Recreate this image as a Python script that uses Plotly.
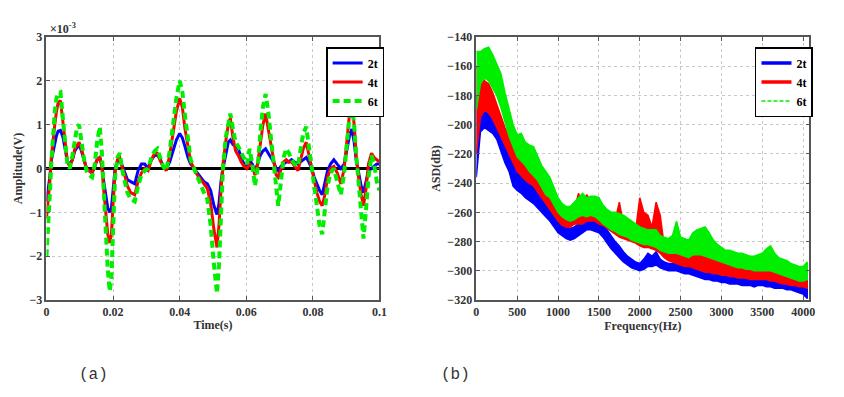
import plotly.graph_objects as go

# ---------------- (a) time domain, values in units of 1e-3 V ----------------
time_ms = [0.0, 0.5, 1.0, 1.5, 2.0, 2.5, 3.0, 3.5, 4.2, 5.0, 5.6, 6.3, 7.0, 7.8, 8.5, 9.2, 9.8,
           10.5, 11.3, 12.0, 12.8, 13.7, 14.5, 15.2, 16.0, 16.6, 17.2, 17.8, 18.4, 19.0, 19.5,
           20.0, 20.6, 21.3, 22.0, 22.8, 23.5, 24.3, 25.3, 26.5, 27.5, 28.5, 29.5, 30.5, 31.5,
           32.5, 33.3, 34.0, 35.0, 36.0, 37.0, 38.0, 39.0, 40.0, 40.8, 41.6, 42.5, 43.3, 44.3,
           45.3, 46.3, 47.3, 48.3, 49.3, 50.3, 51.2, 51.8, 52.4, 53.0, 53.8, 54.6, 55.2, 56.0,
           56.8, 57.6, 58.5, 59.3, 60.2, 61.0, 61.8, 62.6, 63.4, 64.2, 65.0, 65.8, 66.6, 67.4,
           68.2, 69.0, 69.6, 70.4, 71.2, 72.0, 72.8, 73.6, 74.5, 75.5, 76.3, 77.1, 78.0, 78.8,
           79.6, 80.4, 81.2, 82.0, 82.8, 83.6, 84.4, 85.3, 86.3, 87.3, 88.4, 89.4, 90.2, 91.0,
           91.7, 92.4, 93.0, 93.7, 94.5, 95.2, 95.9, 96.7, 97.6, 98.4, 99.2, 100.0]

amp_2t = [-0.75, -0.5, -0.2, 0.2, 0.4, 0.55, 0.75, 0.85, 0.87, 0.7, 0.4, 0.15, 0.1, 0.2, 0.4, 0.5, 0.55,
          0.4, 0.2, 0.0, -0.05, -0.1, 0.05, 0.2, 0.25, 0.1, -0.3, -0.6, -0.9, -1.0, -0.9,
          -0.5, 0.0, 0.15, 0.2, 0.05, -0.1, -0.25, -0.3, -0.35, -0.05, 0.1, 0.1, 0.0, 0.2,
          0.3, 0.3, 0.25, 0.05, 0.0, 0.15, 0.4, 0.65, 0.8, 0.7, 0.5, 0.25, 0.1, 0.0,
          -0.1, -0.2, -0.3, -0.35, -0.5, -0.85, -1.05, -0.8, -0.3, 0.0, 0.35, 0.6, 0.65, 0.55,
          0.5, 0.45, 0.25, 0.1, 0.05, 0.2, 0.1, -0.05, 0.1, 0.3, 0.4, 0.45, 0.35, 0.25,
          0.15, 0.0, -0.05, 0.05, 0.1, 0.15, 0.15, 0.2, 0.15, 0.1, 0.15, 0.2, 0.25, 0.15,
          0.0, -0.2, -0.35, -0.5, -0.6, -0.35, -0.05, 0.1, 0.2, 0.1, 0.0, 0.1, 0.4, 0.75,
          0.9, 0.6, 0.2, -0.1, -0.4, -0.55, -0.3, -0.05, 0.0, 0.05, 0.1, 0.1]

amp_4t = [-1.15, -0.8, -0.3, 0.3, 0.7, 1.0, 1.3, 1.5, 1.55, 1.0, 0.5, 0.15, 0.05, 0.2, 0.45, 0.55, 0.6,
          0.45, 0.2, 0.0, -0.05, -0.1, 0.05, 0.2, 0.25, 0.05, -0.5, -1.0, -1.5, -1.7, -1.5,
          -0.8, -0.1, 0.2, 0.25, 0.0, -0.15, -0.4, -0.55, -0.6, -0.3, -0.1, 0.0, -0.05, 0.2,
          0.35, 0.35, 0.2, 0.05, -0.05, 0.3, 0.8, 1.3, 1.6, 1.4, 0.9, 0.45, 0.15, 0.0,
          -0.15, -0.25, -0.35, -0.45, -0.8, -1.4, -1.8, -1.3, -0.5, 0.1, 0.6, 1.0, 1.15, 0.7,
          0.4, 0.3, 0.15, 0.05, 0.0, 0.1, 0.05, -0.15, 0.1, 0.6, 1.0, 1.25, 0.9, 0.5,
          0.2, -0.15, -0.2, 0.0, 0.15, 0.2, 0.15, 0.15, 0.05, -0.05, 0.2, 0.45, 0.6, 0.3,
          0.0, -0.3, -0.55, -0.75, -0.85, -0.6, -0.2, 0.0, 0.05, -0.1, -0.35, 0.0, 0.7, 1.25,
          1.45, 1.0, 0.3, -0.2, -0.6, -0.85, -0.5, 0.1, 0.35, 0.25, 0.2, 0.15]

amp_6t = [-2.0, -1.4, -0.6, 0.2, 0.8, 1.3, 1.6, 1.72, 1.74, 1.2, 0.6, 0.1, 0.0, 0.3, 0.7, 0.95, 1.0,
          0.6, 0.2, -0.05, -0.15, -0.2, 0.1, 0.6, 0.95, 0.4, -0.6, -1.6, -2.3, -2.8, -2.5,
          -1.4, -0.2, 0.25, 0.35, -0.05, -0.25, -0.55, -0.7, -0.75, -0.4, -0.15, -0.05, 0.0, 0.25,
          0.4, 0.45, 0.3, 0.05, -0.05, 0.4, 1.0, 1.6, 2.0, 1.75, 1.2, 0.6, 0.2, 0.0,
          -0.2, -0.4, -0.55, -0.7, -1.3, -2.2, -2.85, -2.2, -0.9, 0.0, 0.7, 1.1, 1.25, 0.9,
          0.6, 0.5, 0.35, 0.2, 0.1, 0.45, 0.1, -0.4, 0.0, 0.8, 1.4, 1.7, 1.3, 0.7,
          0.1, -0.5, -0.85, -0.3, 0.25, 0.45, 0.35, 0.2, 0.1, 0.05, 0.4, 0.8, 0.95, 0.5,
          0.0, -0.4, -0.9, -1.3, -1.5, -1.0, -0.4, -0.1, 0.0, -0.3, -0.6, -0.1, 0.6, 1.2,
          1.45, 1.0, 0.3, -0.4, -1.1, -1.6, -1.0, -0.2, 0.3, 0.1, -0.3, -0.5]

time_s = [t / 1000.0 for t in time_ms]

# ---------------- (b) amplitude spectral density, upper / lower envelope (dB) ----------------
freq_hz = [0, 50, 100, 150, 200, 250, 300, 350, 400, 450, 500, 550, 600, 650, 700, 750, 800, 850,
           900, 950, 1000, 1050, 1100, 1150, 1200, 1250, 1300, 1350, 1400, 1450, 1500, 1550, 1600,
           1650, 1700, 1750, 1800, 1850, 1900, 1950, 2000, 2050, 2100, 2150, 2200, 2250, 2300, 2350,
           2400, 2450, 2500, 2550, 2600, 2650, 2700, 2750, 2800, 2850, 2900, 2950, 3000, 3050, 3100,
           3150, 3200, 3250, 3300, 3350, 3400, 3450, 3500, 3550, 3600, 3650, 3700, 3750, 3800, 3850,
           3900, 3950, 4000, 4050]

asd_6t_hi = [-150, -150, -148, -147, -152, -158, -165, -178, -190, -200, -207, -206, -212, -214, -215,
             -222, -228, -232, -236, -243, -250, -254, -256, -256, -253, -250, -247, -250, -249, -249,
             -250, -255, -258, -260, -260, -261, -262, -264, -266, -268, -270, -271, -272, -272, -272,
             -276, -277, -278, -276, -266, -277, -278, -279, -274, -272, -271, -270, -274, -279, -282,
             -284, -286, -286, -287, -288, -288, -289, -290, -290, -289, -288, -285, -283, -288, -291,
             -292, -293, -295, -296, -297, -297, -294]
asd_6t_lo = [-190, -172, -168, -170, -175, -180, -188, -198, -208, -215, -222, -225, -228, -232, -235,
             -238, -243, -248, -250, -255, -260, -263, -265, -266, -265, -263, -262, -263, -262, -263,
             -265, -268, -270, -272, -273, -275, -276, -277, -279, -280, -281, -282, -282, -283, -284,
             -286, -287, -288, -288, -288, -289, -290, -291, -289, -289, -289, -290, -291, -292, -293,
             -294, -295, -296, -297, -298, -298, -299, -299, -300, -300, -300, -300, -300, -301, -302,
             -303, -304, -305, -306, -307, -307, -306]

asd_4t_hi = [-160, -165, -170, -172, -178, -186, -194, -202, -208, -215, -221, -224, -226, -228, -222,
             -234, -240, -246, -250, -253, -258, -261, -262, -262, -258, -247, -254, -248, -252, -250,
             -253, -258, -262, -263, -265, -253, -268, -272, -274, -272, -250, -260, -262, -270, -253,
             -262, -283, -285, -286, -286, -288, -290, -290, -290, -288, -288, -288, -290, -292, -293,
             -294, -294, -295, -295, -296, -296, -297, -298, -299, -297, -296, -297, -298, -299, -300,
             -301, -301, -302, -303, -304, -305, -305]
asd_4t_lo = [-220, -195, -190, -192, -196, -202, -208, -214, -220, -226, -232, -235, -238, -240, -242,
             -246, -250, -254, -258, -262, -266, -269, -270, -270, -268, -268, -268, -266, -266, -266,
             -268, -269, -271, -273, -275, -277, -278, -279, -280, -281, -283, -284, -284, -285, -286,
             -288, -291, -293, -294, -295, -296, -297, -297, -298, -299, -300, -301, -301, -302, -302,
             -303, -303, -304, -304, -305, -305, -305, -306, -306, -306, -306, -306, -307, -307, -308,
             -309, -309, -310, -310, -311, -311, -312]

asd_2t_hi = [-181, -178, -181, -183, -188, -191, -200, -208, -214, -225, -231, -232, -234, -236, -238,
             -243, -248, -253, -256, -260, -265, -267, -270, -271, -270, -268, -267, -265, -265, -266,
             -266, -268, -272, -276, -280, -283, -287, -290, -292, -294, -295, -292, -288, -290, -287,
             -292, -294, -295, -295, -294, -296, -297, -297, -298, -299, -299, -300, -301, -302, -302,
             -302, -303, -303, -304, -304, -304, -305, -305, -305, -304, -304, -305, -305, -306, -306,
             -307, -307, -308, -309, -310, -311, -312]
asd_2t_lo = [-236, -205, -202, -204, -206, -210, -218, -226, -232, -242, -245, -247, -250, -252, -254,
             -257, -260, -263, -266, -270, -274, -276, -278, -279, -278, -276, -274, -272, -272, -273,
             -274, -277, -281, -285, -288, -291, -294, -296, -298, -299, -300, -299, -297, -297, -296,
             -298, -299, -300, -300, -300, -301, -302, -302, -303, -304, -305, -306, -306, -307, -307,
             -308, -308, -309, -309, -309, -310, -310, -310, -311, -310, -310, -311, -311, -312, -312,
             -312, -313, -313, -314, -315, -316, -319]

series_names = ["2t", "4t", "6t"]
colors = {"2t": "#0000ff", "4t": "#ff0000", "6t": "#00ee00"}

time_ticks = [0, 0.02, 0.04, 0.06, 0.08, 0.1]
time_ticklabels = ["0", "0.02", "0.04", "0.06", "0.08", "0.1"]
amp_ticks = [-3, -2, -1, 0, 1, 2, 3]
freq_ticks = [0, 500, 1000, 1500, 2000, 2500, 3000, 3500, 4000]
asd_ticks = [-320, -300, -280, -260, -240, -220, -200, -180, -160, -140]

W, H = 844, 397
TOP, BOTTOM = 37, 300

fig = go.Figure()

# ---- left panel ----
amp_series = {"2t": amp_2t, "4t": amp_4t, "6t": amp_6t}
for name in series_names:
    dash = "7px,4px" if name == "6t" else "solid"
    width = 4 if name == "6t" else 3
    fig.add_trace(go.Scatter(x=time_s, y=amp_series[name], mode="lines", name=name,
                             line=dict(color=colors[name], width=width, dash=dash),
                             xaxis="x", yaxis="y", legend="legend"))

# ---- right panel (bands between envelopes) ----
asd_series = {"2t": (asd_2t_hi, asd_2t_lo), "4t": (asd_4t_hi, asd_4t_lo), "6t": (asd_6t_hi, asd_6t_lo)}
for name in series_names:
    hi, lo = asd_series[name]
    fig.add_trace(go.Scatter(x=freq_hz + freq_hz[::-1], y=hi + lo[::-1], mode="lines",
                             fill="toself", fillcolor=colors[name],
                             line=dict(color=colors[name], width=1.5),
                             showlegend=False, hoverinfo="skip", xaxis="x2", yaxis="y2"))
for name in series_names:
    dash = "4px,2px" if name == "6t" else "solid"
    width = 1.5 if name == "6t" else 3.5
    fig.add_trace(go.Scatter(x=[None], y=[None], mode="lines", name=name,
                             line=dict(color=colors[name], width=width, dash=dash),
                             xaxis="x2", yaxis="y2", legend="legend2"))

tickfont = dict(family="Liberation Serif", size=12, color="#333333", weight="bold")
titlefont = dict(family="Liberation Serif", size=12, color="#333333", weight="bold")
common = dict(showline=True, linecolor="#555555", linewidth=1.5, mirror="ticks",
              ticks="inside", ticklen=4, tickcolor="#555555", showgrid=True,
              gridcolor="#c8c8c8", griddash="dot", gridwidth=1, tickfont=tickfont)

fig.update_layout(
    width=W, height=H,
    margin=dict(l=0, r=0, t=TOP, b=H - BOTTOM),
    paper_bgcolor="white", plot_bgcolor="white",
    xaxis=dict(domain=[44 / W, 381 / W], range=[0, 0.1], tickvals=time_ticks,
               ticktext=time_ticklabels, zeroline=False,
               title=dict(text="Time(s)", font=titlefont, standoff=2), **common),
    yaxis=dict(domain=[0, 1], range=[-3, 3], tickvals=amp_ticks, zeroline=True,
               zerolinecolor="black", zerolinewidth=3, anchor="x",
               title=dict(text="Amplitude(V)", font=titlefont, standoff=4), **common),
    xaxis2=dict(domain=[479 / W, 816 / W], range=[0, 4075], tickvals=freq_ticks, zeroline=False,
                anchor="y2",
                title=dict(text="Frequency(Hz)", font=titlefont, standoff=2), **common),
    yaxis2=dict(domain=[0, 1], range=[-320, -140], tickvals=asd_ticks, zeroline=False,
                anchor="x2",
                title=dict(text="ASD(dB)", font=titlefont, standoff=4), **common),
    legend=dict(x=327 / W, y=(BOTTOM - 47) / (BOTTOM - TOP), xanchor="left", yanchor="top",
                bgcolor="white", bordercolor="black", borderwidth=1.5,
                font=dict(family="Liberation Serif", size=12, color="black", weight="bold"),
                itemwidth=30, tracegroupgap=0),
    legend2=dict(x=761 / W, y=(BOTTOM - 47) / (BOTTOM - TOP), xanchor="left", yanchor="top",
                 bgcolor="white", bordercolor="black", borderwidth=1.5,
                 font=dict(family="Liberation Serif", size=12, color="black", weight="bold"),
                 itemwidth=30, tracegroupgap=0),
    annotations=[
        dict(text="×10<sup>-3</sup>", xref="paper", yref="paper", x=46 / W,
             y=(BOTTOM - 28) / (BOTTOM - TOP), xanchor="left", yanchor="middle",
             showarrow=False, font=dict(family="Liberation Serif", size=12, color="#333333",
                                        weight="bold")),
        dict(text="(a)", xref="paper", yref="paper", x=92 / W,
             y=(BOTTOM - 375) / (BOTTOM - TOP), xanchor="center", yanchor="middle",
             showarrow=False, font=dict(family="Liberation Mono", size=16, color="#333333")),
        dict(text="(b)", xref="paper", yref="paper", x=458 / W,
             y=(BOTTOM - 375) / (BOTTOM - TOP), xanchor="center", yanchor="middle",
             showarrow=False, font=dict(family="Liberation Mono", size=16, color="#333333")),
    ],
)

fig.write_html("out.html", config={"displayModeBar": False},
               post_script="document.body.style.margin='0';")
